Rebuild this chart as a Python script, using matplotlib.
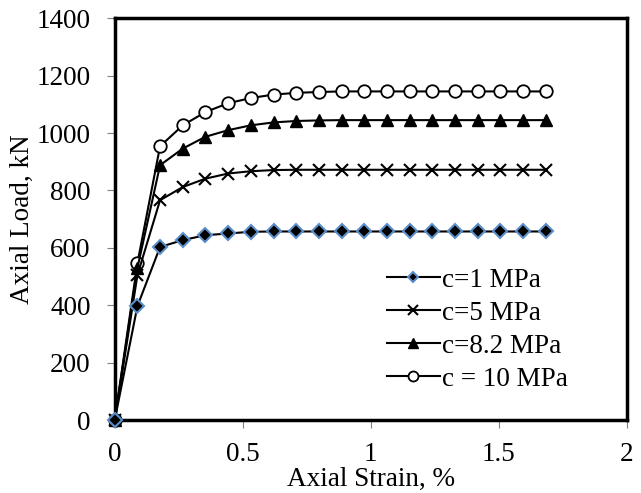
import matplotlib.pyplot as plt

plt.rcParams['font.family'] = ['Liberation Serif', 'DejaVu Serif']

# Axial strain (%) and axial load (kN) for each cohesion value
strain = [0, 0.0886, 0.177, 0.266, 0.354, 0.443, 0.532, 0.620, 0.709, 0.797,
          0.886, 0.975, 1.063, 1.152, 1.240, 1.329, 1.418, 1.506, 1.595, 1.684]
load_c1 = [0, 397, 603, 627, 644, 650, 656, 657, 657, 657,
           657, 657, 657, 657, 657, 657, 657, 657, 657, 657]
load_c5 = [0, 505, 766, 812, 841, 859, 867, 871, 872, 872,
           872, 872, 872, 872, 872, 872, 872, 872, 872, 872]
load_c82 = [0, 530, 888, 946, 987, 1010, 1027, 1037, 1042, 1044,
            1045, 1045, 1045, 1045, 1045, 1045, 1045, 1045, 1045, 1045]
load_c10 = [0, 547, 954, 1027, 1073, 1104, 1122, 1134, 1140, 1143,
            1145, 1145, 1145, 1145, 1145, 1145, 1145, 1145, 1145, 1145]

fs = 19.5

fig = plt.figure(figsize=(6.41, 4.93), dpi=100)
ax = fig.add_axes([0.179, 0.148, 0.799, 0.815])

ax.plot(strain, load_c10, color='black', lw=1.5, marker='o', ms=9,
        mfc='white', mew=1.3, label='c = 10 MPa', clip_on=False, zorder=3)
ax.plot(strain, load_c82, color='black', lw=1.5, marker='^', ms=9,
        mfc='black', label='c=8.2 MPa', clip_on=False, zorder=3)
ax.plot(strain, load_c5, color='black', lw=1.5, marker='x', ms=9,
        mew=1.5, label='c=5 MPa', clip_on=False, zorder=3)
ax.plot(strain, load_c1, color='black', lw=1.5, marker='D', ms=7,
        mfc='black', mec='#5B8FC9', mew=1.5, label='c=1 MPa',
        clip_on=False, zorder=3)

ax.set_xlim(0, 2)
ax.set_ylim(0, 1400)
ax.set_xticks([0, 0.5, 1, 1.5, 2])
ax.set_xticklabels(['0', '0.5', '1', '1.5', '2'])
ax.set_yticks(range(0, 1401, 200))

for s in ax.spines.values():
    s.set_linewidth(2.5)
ax.tick_params(direction='out', length=5.5, width=0.8, color='gray',
               labelsize=fs)
ax.tick_params(axis='y', pad=11.8)
ax.tick_params(axis='x', pad=10.5)

ax.set_xlabel('Axial Strain, %', fontsize=fs, labelpad=0)
ax.set_ylabel('Axial Load, kN', fontsize=fs, labelpad=1)

handles, labels = ax.get_legend_handles_labels()
ax.legend(handles[::-1], labels[::-1], loc='lower left',
          bbox_to_anchor=(0.531, 0.07), frameon=False,
          fontsize=fs, handlelength=1.96, labelspacing=0.3,
          handletextpad=0.1, borderpad=0, borderaxespad=0,
          markerscale=0.8)

fig.savefig('out.png', dpi=100)
